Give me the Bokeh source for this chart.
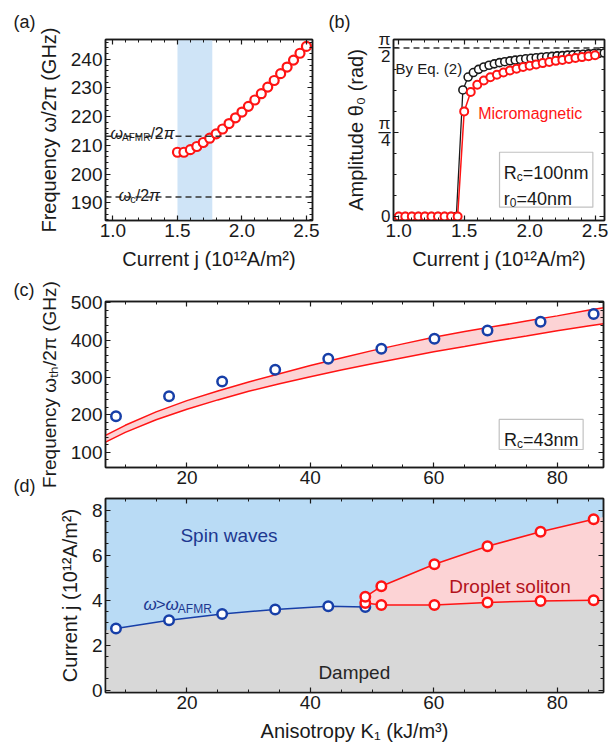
import math
from bokeh.plotting import figure
from bokeh.models import (Range1d, LinearAxis, SingleIntervalTicker, FixedTicker,
                          Span, BoxAnnotation, Label, PrintfTickFormatter,
                          CustomJSTickFormatter, Title)
from bokeh.layouts import column, row
from bokeh.embed import file_html
from bokeh.resources import INLINE

# ---------------- data ----------------
# (a) precession frequency vs current
a_current = [1.50, 1.55, 1.60, 1.65, 1.70, 1.75, 1.80, 1.85, 1.90, 1.95, 2.00,
             2.05, 2.10, 2.15, 2.20, 2.25, 2.30, 2.35, 2.40, 2.45, 2.50]
a_frequency = [207.6, 207.6, 208.5, 209.6, 211.0, 212.5, 214.0, 215.7, 217.6, 219.6, 221.6,
               223.6, 225.8, 228.0, 230.3, 232.6, 235.0, 237.3, 239.7, 242.1, 244.5]
a_band = [1.50, 1.77]
a_f_afmr = 213.2
a_f_c = 192.0

# (b) amplitude vs current
b_current_mm = [1.00, 1.05, 1.10, 1.15, 1.20, 1.25, 1.30, 1.35, 1.40, 1.45,
                1.50, 1.55, 1.60, 1.65, 1.70, 1.75, 1.80, 1.85, 1.90, 1.95, 2.00,
                2.05, 2.10, 2.15, 2.20, 2.25, 2.30, 2.35, 2.40, 2.45, 2.50]
b_theta_mm = [0, 0, 0, 0, 0, 0, 0, 0, 0, 0,
              0.980, 1.160, 1.228, 1.268, 1.298, 1.322, 1.343, 1.362, 1.378, 1.393, 1.406,
              1.418, 1.430, 1.441, 1.451, 1.460, 1.469, 1.478, 1.486, 1.495, 1.503]
b_current_eq = [1.00, 1.05, 1.10, 1.15, 1.20, 1.25, 1.30, 1.35, 1.40, 1.44,
                1.49, 1.53, 1.57, 1.61, 1.65, 1.69, 1.73, 1.77, 1.81, 1.85,
                1.89, 1.93, 1.97, 2.01, 2.05, 2.09, 2.13, 2.17, 2.21, 2.25,
                2.29, 2.33, 2.37, 2.41, 2.45, 2.49, 2.53, 2.57, 2.61]
b_theta_eq = [0, 0, 0, 0, 0, 0, 0, 0, 0, 0,
              1.180, 1.300, 1.342, 1.372, 1.394, 1.410, 1.423, 1.434, 1.443, 1.451,
              1.458, 1.464, 1.470, 1.475, 1.480, 1.485, 1.489, 1.493, 1.497, 1.500,
              1.504, 1.507, 1.510, 1.513, 1.516, 1.519, 1.521, 1.524, 1.526]
b_theta_limit = math.pi / 2
b_ticks = [0, math.pi / 4, math.pi / 2]
b_tick_labels = ["0", "π\n─\n4", "π\n─\n2"]

# (c) threshold frequency vs anisotropy
c_anisotropy = [8.5, 17.1, 25.7, 34.3, 42.9, 51.5, 60.1, 68.7, 77.3, 85.9]
c_frequency = [196, 250, 289, 321, 350, 377, 404, 426, 449, 470]
c_band_k = [6.8, 10, 15, 20, 25, 30, 35, 40, 45, 50, 55, 60, 65, 70, 75, 80, 85, 87.5]
c_band_upper = [145, 172, 208, 238, 264, 288, 310, 332, 352, 372, 390, 408, 423, 437, 451, 465, 480, 487]
c_band_lower = [127, 153, 187, 215, 240, 263, 283, 302, 320, 337, 353, 369, 383, 398, 411, 425, 438, 444]

# (d) phase diagram
d_k_spin = [8.5, 17.1, 25.7, 34.3, 42.9, 48.9]
d_j_spin = [2.74, 3.11, 3.39, 3.59, 3.73, 3.70]
d_k_drop = [48.9, 51.5, 60.1, 68.7, 77.3, 85.9]
d_j_drop_low = [3.88, 3.79, 3.79, 3.90, 3.97, 4.00]
d_j_drop_high = [4.15, 4.62, 5.60, 6.40, 7.04, 7.60]
d_k_edges = [6.8, 87.5]
d_j_edge_left = 2.66
d_j_edge_right_low = 4.01
d_j_edge_right_high = 7.70

# ---------------- style ----------------
FONT = "Liberation Sans"
INK = "#1a1a1a"
RED = "#ff1414"
BLUE = "#173fa8"
SKY = "#b9dbf5"
GRAY = "#d8d8d8"
PINK = "#fcd3d5"
TICK_FS = "19px"
LABEL_FS = "20px"

W = {'R': .722, 'c': .5, '=': .584, '1': .556, '0': .556, 'n': .556, 'm': .833, '4': .556,
     '3': .556, 'r': .333, 'A': .667, 'F': .611, 'M': .833, '/': .278, '2': .556, 'π': .56,
     'ω': .72, '>': .584, ' ': .278}


def tw(s, size):
    return sum(W.get(ch, 0.556) for ch in s) * size


def make_fig(w, h, xr, yr, left, right, top, bottom):
    p = figure(width=w, height=h, x_range=Range1d(*xr), y_range=Range1d(*yr),
               output_backend="svg", toolbar_location=None,
               min_border_left=left, min_border_right=right,
               min_border_top=top, min_border_bottom=bottom)
    p.xgrid.visible = False
    p.ygrid.visible = False
    p.outline_line_color = INK
    p.outline_line_width = 1.5
    p.border_fill_color = "white"
    return p


def panel_title(t, text, offset, standoff, valign="top"):
    t.text = text
    t.align = "left"
    t.offset = offset
    t.standoff = standoff
    t.vertical_align = valign
    t.text_font = FONT
    t.text_font_size = "18px"
    t.text_font_style = "normal"
    t.text_color = INK


def style_axis(ax, ticker, label=None, labels=True, overrides=None, fmt=None,
               label_fs=LABEL_FS, tick_fs=TICK_FS):
    ax.ticker = ticker
    ax.axis_line_color = INK
    ax.axis_line_width = 1.5
    ax.major_tick_in = 5
    ax.major_tick_out = 0
    ax.minor_tick_in = 3
    ax.minor_tick_out = 0
    ax.major_tick_line_color = INK
    ax.minor_tick_line_color = INK
    ax.major_tick_line_width = 1.2
    ax.minor_tick_line_width = 1
    ax.major_label_text_font = FONT
    ax.major_label_text_color = INK
    if labels:
        ax.major_label_text_font_size = tick_fs
        ax.major_label_standoff = 3
        if fmt is not None:
            ax.formatter = fmt
    else:
        ax.formatter = CustomJSTickFormatter(code="return ''")
        ax.major_label_text_font_size = "1px"
        ax.major_label_standoff = 0
    if overrides:
        ax.major_label_overrides = overrides
    if label:
        ax.axis_label = label
        ax.axis_label_text_font = FONT
        ax.axis_label_text_font_size = label_fs
        ax.axis_label_text_font_style = "normal"
        ax.axis_label_text_color = INK
        ax.axis_label_standoff = 8


def axes(p, xt, yt, xlabel=None, ylabel=None, yoverrides=None, xfmt=None,
         ylabel_fs=LABEL_FS, ytick_fs=TICK_FS):
    style_axis(p.xaxis[0], xt, xlabel, fmt=xfmt)
    style_axis(p.yaxis[0], yt, ylabel, overrides=yoverrides, label_fs=ylabel_fs, tick_fs=ytick_fs)
    top = LinearAxis()
    style_axis(top, xt, labels=False)
    p.add_layout(top, "above")
    right = LinearAxis()
    style_axis(right, yt, labels=False)
    p.add_layout(right, "right")


def lab(p, x, y, text, size, color=INK, align="left", baseline="alphabetic",
        style="normal", xo=0, yo=0):
    p.add_layout(Label(x=x, y=y, text=text,
                       text_font=FONT, text_font_size=f"{size}px", text_color=color,
                       text_align=align, text_baseline=baseline, text_font_style=style,
                       x_offset=xo, y_offset=yo))


def rich(p, x, y, pieces, color=INK):
    xo = 0.0
    for txt, size, dy, style in pieces:
        lab(p, x, y, txt, size, color=color, style=style, xo=xo, yo=dy)
        xo += tw(txt, size)


# ---------------- (a) ----------------
pa = make_fig(325, 276, (0.942, 2.547), (183.8, 246.9), 105, 13, 39, 56)
axes(pa, SingleIntervalTicker(interval=0.5, num_minor_ticks=5),
     SingleIntervalTicker(interval=10, num_minor_ticks=5),
     xlabel="Current j (10¹²A/m²)", ylabel="Frequency ω/2π (GHz)",
     xfmt=PrintfTickFormatter(format="%.1f"))
panel_title(pa.title, "(a)", -92, 12)
pa.add_layout(BoxAnnotation(left=a_band[0], right=a_band[1], fill_color="#cfe4f7",
                            fill_alpha=1, line_color=None, level="underlay"))
for f in (a_f_afmr, a_f_c):
    pa.add_layout(Span(location=f, dimension="width", line_color="#333333",
                       line_width=1.5, line_dash="6 4"))
pa.scatter(a_current, a_frequency, marker="circle", size=9, line_color=RED,
           line_width=2.2, fill_color="white")
rich(pa, 0.981, 214.1, [("ω", 16, 0, "italic"), ("AFMR", 10, -4, "normal"),
                        ("/2", 16, 0, "normal"), ("π", 16, 0, "italic")])
rich(pa, 1.045, 192.6, [("ω", 16, 0, "italic"), ("c", 11, -4, "normal"),
                        ("/2", 16, 0, "normal"), ("π", 16, 0, "italic")])

# ---------------- (b) ----------------
yt_b = FixedTicker(ticks=b_ticks, minor_ticks=[i * math.pi / 16 for i in range(9)])
pb = make_fig(288, 276, (0.960, 2.572), (-0.037, 1.650), 68, 9, 39, 56)
axes(pb, SingleIntervalTicker(interval=0.5, num_minor_ticks=5), yt_b,
     xlabel="Current j (10¹²A/m²)", ylabel="Amplitude θ₀ (rad)",
     yoverrides=dict(zip(b_ticks, b_tick_labels)),
     xfmt=PrintfTickFormatter(format="%.1f"), ytick_fs="17px")
pb.yaxis[0].major_label_text_line_height = 0.45
panel_title(pb.title, "(b)", -65, 12)
pb.add_layout(Span(location=b_theta_limit, dimension="width", line_color="#333333",
                   line_width=1.5, line_dash="6 4"))
pb.line(b_current_eq, b_theta_eq, line_color=INK, line_width=1.3)
pb.scatter(b_current_eq, b_theta_eq, marker="circle", size=8, line_color=INK,
           line_width=1.6, fill_color="white")
pb.line(b_current_mm, b_theta_mm, line_color=RED, line_width=1.5)
pb.scatter(b_current_mm, b_theta_mm, marker="circle", size=8, line_color=RED,
           line_width=2.0, fill_color="white")
lab(pb, 0.975, 1.377, "By Eq. (2)", 15)
lab(pb, 1.607, 0.957, "Micromagnetic", 16, color=RED)
pb.add_layout(BoxAnnotation(left=1.770, right=2.483, bottom=0.087, top=0.599,
                            fill_color="white", fill_alpha=1, line_color="#333333", line_width=1.2))
rich(pb, 1.803, 0.404, [("R", 18, 0, "normal"), ("c", 12, -4, "normal"), ("=100nm", 18, 0, "normal")])
rich(pb, 1.803, 0.165, [("r", 18, 0, "normal"), ("0", 12, -4, "normal"), ("=40nm", 18, 0, "normal")])

# ---------------- (c) ----------------
pc = make_fig(613, 221, (6.8, 87.5), (59, 503.5), 105, 10, 25, 30)
axes(pc, SingleIntervalTicker(interval=20, num_minor_ticks=4),
     SingleIntervalTicker(interval=100, num_minor_ticks=5),
     ylabel="Frequency ωₜₕ/2π (GHz)", ylabel_fs="19px")
panel_title(pc.title, "(c)", -92, 0)
d_title = Title()
panel_title(d_title, "(d)", -92, -22)
pc.add_layout(d_title, "below")
pc.varea(x=c_band_k, y1=c_band_lower, y2=c_band_upper, fill_color=PINK)
pc.line(c_band_k, c_band_upper, line_color=RED, line_width=1.5)
pc.line(c_band_k, c_band_lower, line_color=RED, line_width=1.5)
pc.scatter(c_anisotropy, c_frequency, marker="circle", size=9.5, line_color=BLUE,
           line_width=2.5, fill_color="white")
pc.add_layout(BoxAnnotation(left=70.6, right=84.2, bottom=107.2, top=187.6,
                            fill_color="white", fill_alpha=1, line_color="#333333", line_width=1.2))
rich(pc, 71.36, 131.3, [("R", 18, 0, "normal"), ("c", 12, -4, "normal"), ("=43nm", 18, 0, "normal")])

# ---------------- (d) ----------------
pd_ = make_fig(613, 253, (6.8, 87.5), (-0.1, 8.52), 105, 10, 1, 58)
axes(pd_, SingleIntervalTicker(interval=20, num_minor_ticks=4),
     SingleIntervalTicker(interval=2, num_minor_ticks=4),
     xlabel="Anisotropy K₁ (kJ/m³)", ylabel="Current j (10¹²A/m²)")
pd_.background_fill_color = SKY
bound_k = [d_k_edges[0]] + d_k_spin + d_k_drop[1:] + [d_k_edges[1]]
bound_j = [d_j_edge_left] + d_j_spin + d_j_drop_low[1:] + [d_j_edge_right_low]
pd_.varea(x=bound_k, y1=[-1] * len(bound_k), y2=bound_j, fill_color=GRAY)
drop_k = d_k_drop + [d_k_edges[1]]
pd_.varea(x=drop_k, y1=d_j_drop_low + [d_j_edge_right_low],
          y2=d_j_drop_high + [d_j_edge_right_high], fill_color=PINK)
pd_.line(d_k_spin, d_j_spin, line_color=BLUE, line_width=1.5)
pd_.scatter(d_k_spin, d_j_spin, marker="circle", size=9.5, line_color=BLUE,
            line_width=2.5, fill_color="white")
pd_.line(d_k_drop, d_j_drop_low, line_color=RED, line_width=1.5)
pd_.line(d_k_drop, d_j_drop_high, line_color=RED, line_width=1.5)
pd_.scatter(d_k_drop, d_j_drop_low, marker="circle", size=9.5, line_color=RED,
            line_width=2.5, fill_color="white")
pd_.scatter(d_k_drop, d_j_drop_high, marker="circle", size=9.5, line_color=RED,
            line_width=2.5, fill_color="white")
lab(pd_, 18.94, 6.89, "Spin waves", 19, color="#1d3890")
rich(pd_, 12.95, 3.82, [("ω", 17, 0, "italic"), (">", 17, 0, "normal"), ("ω", 17, 0, "italic"),
                         ("AFMR", 12, -5, "normal")], color="#1d3890")
lab(pd_, 62.51, 4.59, "Droplet soliton", 19, color="#b3121c")
lab(pd_, 41.3, 0.81, "Damped", 19, color="#262626")

layout = column(row(pa, pb), pc, pd_)
open("out.html", "w").write(file_html(layout, INLINE))
